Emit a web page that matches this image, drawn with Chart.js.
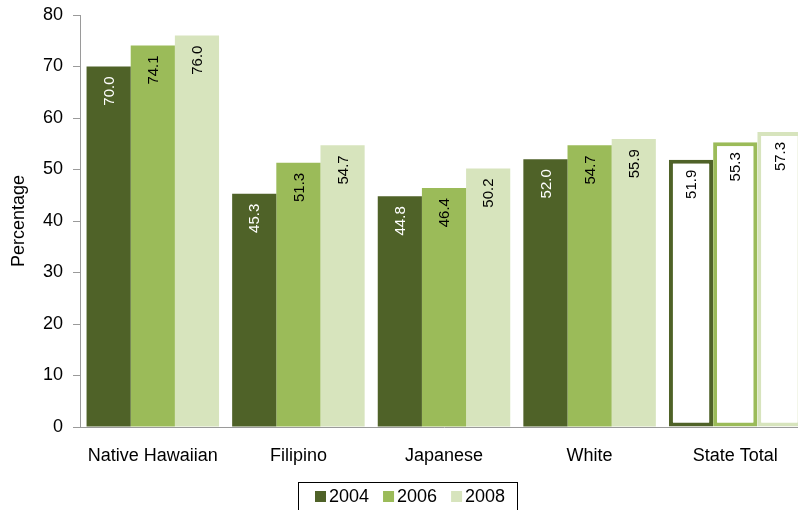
<!DOCTYPE html>
<html>
<head>
<meta charset="utf-8">
<script src="https://cdn.jsdelivr.net/npm/chart.js@4/dist/chart.umd.min.js"></script>
<style>
  html, body { margin: 0; padding: 0; overflow: hidden; background: #fff; }
  #wrap { width: 808px; height: 510px; }
</style>
</head>
<body>
<div id="wrap"><canvas id="myChart"></canvas></div>
<script>
const categories = ["Native Hawaiian", "Filipino", "Japanese", "White", "State Total"];
const years = ["2004", "2006", "2008"];
const values2004 = [70.0, 45.3, 44.8, 52.0, 51.9];
const values2006 = [74.1, 51.3, 46.4, 54.7, 55.3];
const values2008 = [76.0, 54.7, 50.2, 55.9, 57.3];
const yTicks = [0, 10, 20, 30, 40, 50, 60, 70, 80];

const colors = ["#4f6228", "#9bbb59", "#d7e4bd"];
const labelColors = ["#ffffff", "#000000", "#000000"];
const totalIndex = categories.indexOf("State Total");
const FONT = "'Liberation Sans', Arial, sans-serif";

function makeDataset(label, values, i) {
	return {
		label: label,
		data: values,
		backgroundColor: values.map((v, j) => (j === totalIndex ? "#ffffff" : colors[i])),
		borderColor: colors[i],
		borderWidth: values.map((v, j) => (j === totalIndex ? 4 : 0)),
		borderSkipped: false,
		legendColor: colors[i],
		labelColor: labelColors[i],
	};
}

// value labels drawn rotated inside the top of each bar
const barLabels = {
	id: "barLabels",
	afterDatasetsDraw(chart) {
		const ctx = chart.ctx;
		ctx.save();
		ctx.font = "15px " + FONT;
		ctx.textAlign = "right";
		ctx.textBaseline = "middle";
		chart.data.datasets.forEach((ds, i) => {
			const meta = chart.getDatasetMeta(i);
			meta.data.forEach((bar, j) => {
				ctx.save();
				ctx.translate(bar.x, bar.y + 10);
				ctx.rotate(-Math.PI / 2);
				ctx.fillStyle = j === totalIndex ? "#000000" : ds.labelColor;
				ctx.fillText(ds.data[j].toFixed(1), 0, 1);
				ctx.restore();
			});
		});
		ctx.restore();
	},
};

// boxed legend under the x labels (built-in legend can't do the frame)
const boxLegend = {
	id: "boxLegend",
	afterDraw(chart) {
		const ctx = chart.ctx;
		const ds = chart.data.datasets;
		ctx.save();
		ctx.font = "18px " + FONT;
		ctx.textBaseline = "middle";
		const sq = 11, gapText = 3, gapItem = 14;
		const widths = ds.map((d) => sq + gapText + ctx.measureText(d.label).width);
		const total = widths.reduce((a, b) => a + b, 0) + gapItem * (ds.length - 1);
		const frameLeft = Math.round(408 - (total + 29) / 2);
		const top = 482;
		ctx.strokeStyle = "#000000";
		ctx.lineWidth = 1;
		ctx.strokeRect(frameLeft + 0.5, top + 0.5, Math.round(total + 29), 40);
		let x = frameLeft + 17;
		const cy = 496;
		ds.forEach((d, i) => {
			ctx.fillStyle = d.legendColor;
			ctx.fillRect(x, cy - 5, sq, sq);
			ctx.fillStyle = "#000000";
			ctx.fillText(d.label, x + sq + gapText, cy + 1);
			x += widths[i] + gapItem;
		});
		ctx.restore();
	},
};

const data = {
	labels: categories,
	datasets: [
		makeDataset(years[0], values2004, 0),
		makeDataset(years[1], values2006, 1),
		makeDataset(years[2], values2008, 2),
	],
};

const config = {
	type: "bar",
	data: data,
	options: {
		responsive: true,
		maintainAspectRatio: false,
		animation: false,
		datasets: {
			bar: {
				categoryPercentage: 0.91,
				barPercentage: 1.0,
			},
		},
		layout: {
			padding: { top: 15, right: 0, left: 0, bottom: 35 },
		},
		scales: {
			x: {
				grid: { display: false },
				border: { color: "#9a9a9a", width: 1 },
				ticks: {
					color: "#000000",
					font: { family: FONT, size: 18 },
					padding: 10,
					maxRotation: 0,
				},
				afterFit(axis) {
					axis.height = 48;
				},
			},
			y: {
				min: 0,
				max: 80,
				afterBuildTicks(axis) {
					axis.ticks = yTicks.map((v) => ({ value: v }));
				},
				afterFit(axis) {
					axis.width = 80;
					axis.paddingTop = 0;
					axis.paddingBottom = 0;
				},
				grid: {
					drawOnChartArea: false,
					drawTicks: true,
					tickLength: 7,
					color: "#9a9a9a",
				},
				border: { color: "#9a9a9a", width: 1 },
				ticks: {
					color: "#000000",
					font: { family: FONT, size: 18 },
					padding: 10,
				},
				title: {
					display: true,
					text: "Percentage",
					color: "#000000",
					font: { family: FONT, size: 18 },
					padding: { top: 8, bottom: 0 },
				},
			},
		},
		plugins: {
			legend: { display: false },
			tooltip: { enabled: false },
		},
	},
	plugins: [barLabels, boxLegend],
};

new Chart(document.getElementById("myChart").getContext("2d"), config);
</script>
</body>
</html>
